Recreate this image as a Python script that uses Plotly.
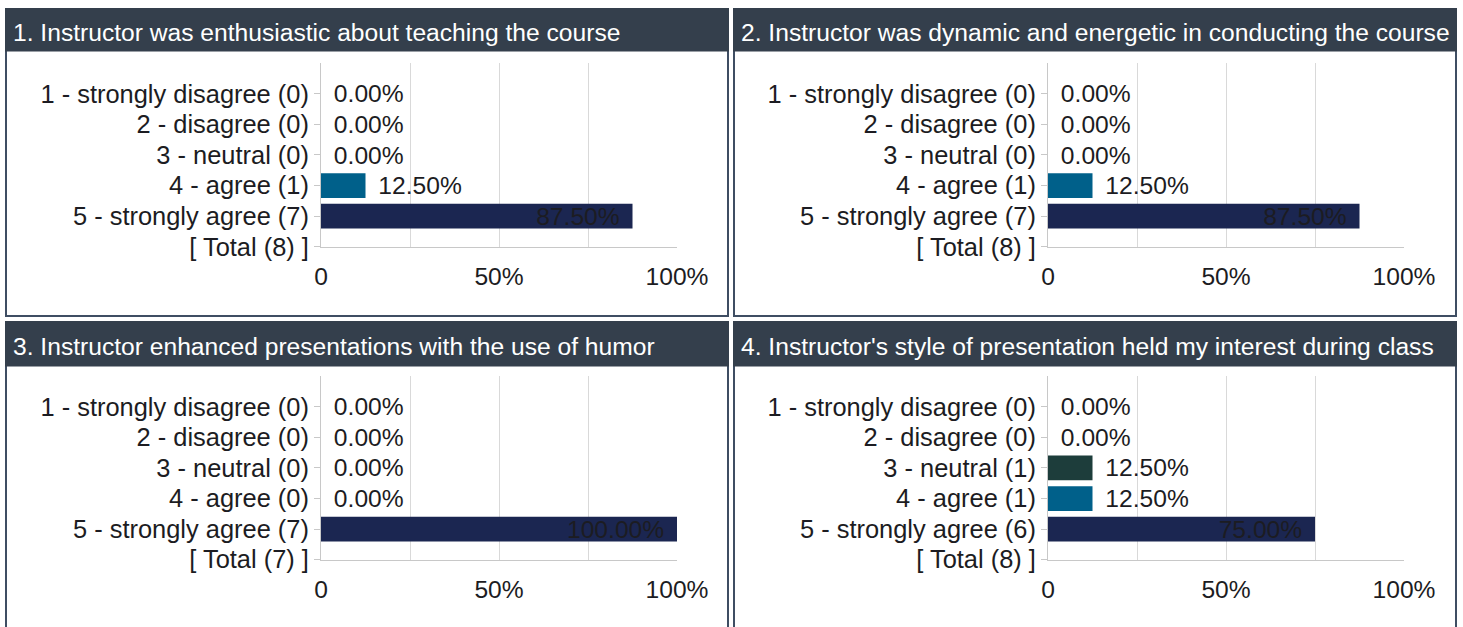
import plotly.graph_objects as go

# ---- data ----
titles = [
    "1. Instructor was enthusiastic about teaching the course",
    "2. Instructor was dynamic and energetic in conducting the course",
    "3. Instructor enhanced presentations with the use of humor",
    "4. Instructor's style of presentation held my interest during class",
]
categories = ["1 - strongly disagree", "2 - disagree", "3 - neutral", "4 - agree", "5 - strongly agree"]
counts_q1 = [0, 0, 0, 1, 7]
counts_q2 = [0, 0, 0, 1, 7]
counts_q3 = [0, 0, 0, 0, 7]
counts_q4 = [0, 0, 1, 1, 6]
pct_q1 = [0.0, 0.0, 0.0, 12.5, 87.5]
pct_q2 = [0.0, 0.0, 0.0, 12.5, 87.5]
pct_q3 = [0.0, 0.0, 0.0, 0.0, 100.0]
pct_q4 = [0.0, 0.0, 12.5, 12.5, 75.0]
x_tick_vals = [0, 25, 50, 75, 100]
x_tick_text = ["0", "", "50%", "", "100%"]

all_counts = [counts_q1, counts_q2, counts_q3, counts_q4]
all_pcts = [pct_q1, pct_q2, pct_q3, pct_q4]

# ---- style ----
KX = 1 / 0.975         # compensation for the observed horizontal page scaling
KY = 1 / 0.9875        # compromise for the vertical page scaling
RW, RH = 1463, 627     # reference pixel frame
W, H = round(RW * KX), round(RH * KY)
bar_colors = ["#8c1c13", "#c4622d", "#1d3d3b", "#00608a", "#1b2651"]
header_color = "#343f4c"
border_color = "#3f4e63"
font_family = "Liberation Sans, Arial, sans-serif"
text_color = "#1c1c22"
FS = 24 * KX
FS_Y = 24.8 * KX

def px_x(p):
    return p / RW

def px_y(p):
    return 1 - p / RH

panels = [
    dict(box=(6, 9, 728, 319), head_bottom=52, plot=(321, 64, 677, 249)),
    dict(box=(734, 9, 1456, 319), head_bottom=52, plot=(1048, 64, 1404, 249)),
    dict(box=(6, 325, 728, 640), head_bottom=370, plot=(321, 380, 677, 565)),
    dict(box=(734, 325, 1456, 640), head_bottom=370, plot=(1048, 380, 1404, 565)),
]

fig = go.Figure()
shapes = []
annotations = []
layout_axes = {}

for i, (p, counts, pcts, title) in enumerate(zip(panels, all_counts, all_pcts, titles)):
    idx = "" if i == 0 else str(i + 1)
    total = sum(counts)
    labels = [f"{c} ({n})" for c, n in zip(categories, counts)]
    all_labels = labels + [f"[ Total ({total}) ]"]
    positions = ["inside" if v > 50 else "outside" for v in pcts]
    texts = [(f"{v:.2f}%\u2009\u2009" if v > 50 else f"\u2009\u2009{v:.2f}%") for v in pcts]
    fig.add_trace(go.Bar(
        x=pcts, y=labels, orientation="h",
        marker=dict(color=bar_colors, line=dict(width=0)),
        width=0.81,
        text=texts, textposition=positions,
        insidetextanchor="end",
        textfont=dict(family=font_family, size=FS, color=text_color),
        insidetextfont=dict(family=font_family, size=FS, color=text_color),
        outsidetextfont=dict(family=font_family, size=FS, color=text_color),
        constraintext="none", cliponaxis=False,
        hoverinfo="skip", showlegend=False,
        xaxis="x" + idx, yaxis="y" + idx,
    ))
    x0, y0, x1, y1 = p["plot"]
    layout_axes["xaxis" + idx] = dict(
        domain=[px_x(x0), px_x(x1)], anchor="y" + idx, range=[0, 100],
        tickmode="array", tickvals=x_tick_vals, ticktext=x_tick_text,
        showgrid=True, gridcolor="#d9d9d9", gridwidth=1,
        zeroline=False, showline=True, linecolor="#c8c8c8", linewidth=1,
        ticks="", ticklabelstandoff=8,
        tickfont=dict(family=font_family, size=FS, color=text_color),
        fixedrange=True,
    )
    layout_axes["yaxis" + idx] = dict(
        domain=[px_y(y1), px_y(y0)], anchor="x" + idx,
        type="category", categoryorder="array", categoryarray=all_labels,
        tickmode="array", tickvals=all_labels, ticktext=all_labels,
        range=[len(all_labels) - 1, -1],
        showgrid=False, zeroline=False, showline=True, linecolor="#c8c8c8", linewidth=1,
        ticks="outside", ticklen=6, tickcolor="#c8c8c8",
        tickfont=dict(family=font_family, size=FS_Y, color=text_color),
        fixedrange=True,
    )
    bx0, by0, bx1, by1 = p["box"]
    shapes.append(dict(type="rect", xref="paper", yref="paper",
                       x0=px_x(bx0), x1=px_x(bx1), y0=px_y(by1), y1=px_y(by0),
                       line=dict(color=border_color, width=2), fillcolor="white", layer="below"))
    shapes.append(dict(type="rect", xref="paper", yref="paper",
                       x0=px_x(bx0 - 1), x1=px_x(bx1 + 1), y0=px_y(p["head_bottom"]), y1=px_y(by0 - 1),
                       line=dict(width=0), fillcolor=header_color, layer="below"))
    annotations.append(dict(text=title, xref="paper", yref="paper",
                            x=px_x(bx0 + 5), y=px_y((by0 + p["head_bottom"]) / 2 + 2),
                            xanchor="left", yanchor="middle", showarrow=False,
                            font=dict(family=font_family, size=FS, color="white")))

fig.update_layout(
    width=W, height=H,
    margin=dict(l=0, r=0, t=0, b=0),
    paper_bgcolor="white", plot_bgcolor="rgba(0,0,0,0)",
    shapes=shapes, annotations=annotations,
    showlegend=False, barmode="overlay",
    **layout_axes,
)

fig.write_html("out.html", config={"displayModeBar": False},
               post_script="document.body.style.margin='0';document.body.style.marginLeft='-7px';document.body.style.overflow='hidden';")
